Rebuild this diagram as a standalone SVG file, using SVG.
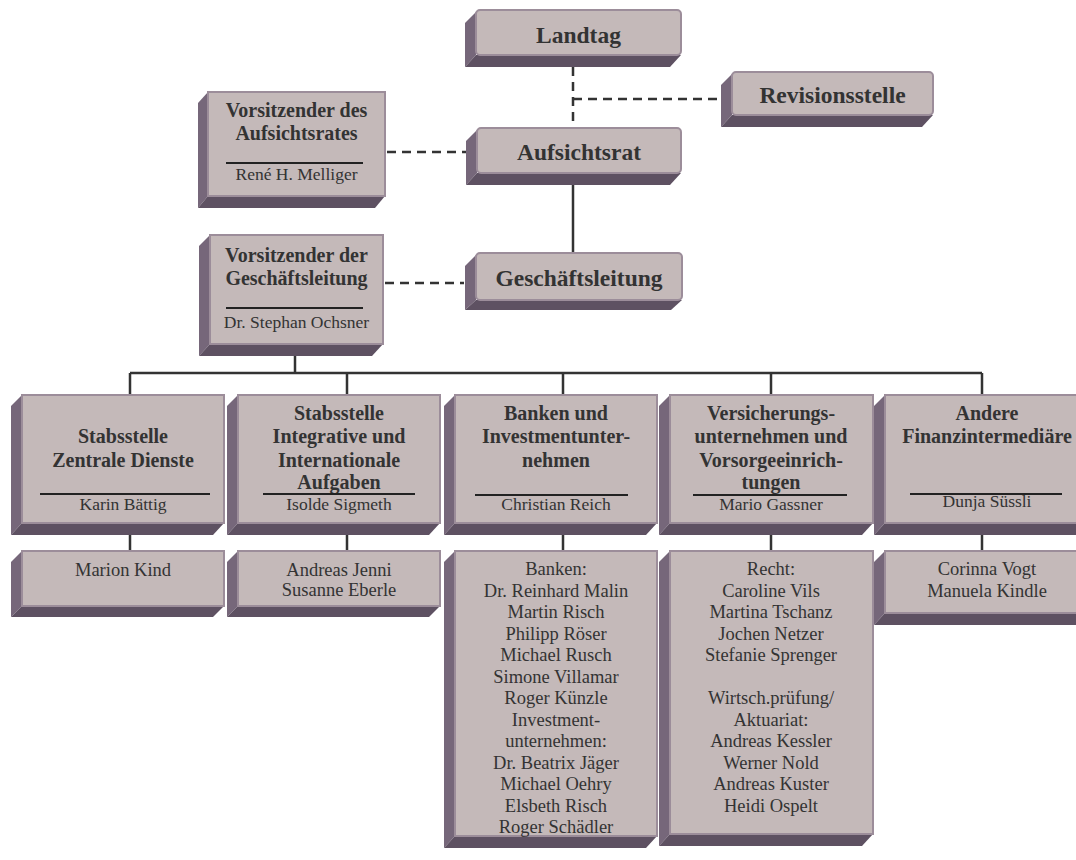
<svg xmlns="http://www.w3.org/2000/svg" width="1076" height="860" viewBox="0 0 1076 860">
<style>
.face{fill:#c4b9b9;stroke:#9c8d9a;stroke-width:2}
.side{fill:#76677a}
.bot{fill:#5e5162}
text{font-family:"Liberation Serif","Times New Roman",serif;fill:#333;text-anchor:middle}
.t1{font-size:23.5px;font-weight:bold}
.t2{font-size:20px;font-weight:bold}
.nm{font-size:17.5px}
.ls{font-size:18.5px}
.sep{stroke:#222;stroke-width:2}
.con{stroke:#333;stroke-width:2.5;fill:none}
.dash{stroke:#333;stroke-width:2.5;fill:none;stroke-dasharray:9,6}
</style>
<rect width="1076" height="860" fill="#fff"/>
<g id="connectors">
<path class="dash" d="M573,67 V128"/>
<path class="dash" d="M573,99 H720"/>
<path class="dash" d="M387,152 H466"/>
<path class="dash" d="M385,283 H464"/>
<path class="con" d="M573,185 V253"/>
<path class="con" d="M295,356 V373"/>
<path class="con" d="M130,373 H982"/>
<path class="con" d="M130,373 V395 M347,373 V395 M563,373 V395 M771,373 V395 M982,373 V395"/>
<path class="con" d="M130,535 V551 M347,535 V551 M563,535 V551 M771,535 V551 M982,535 V551"/>
</g>
<g id="landtag">
<polygon class="side" points="476,12 465,23 465,67 476,55"/>
<polygon class="bot" points="476,55 465,67 670,67 681,55"/>
<rect class="face" x="476" y="10" width="205" height="45" rx="4"/>
<text class="t1" x="578.5" y="43">Landtag</text>
</g>
<g id="revisionsstelle">
<polygon class="side" points="732,74 721,85 721,127 732,115"/>
<polygon class="bot" points="732,115 721,127 922,127 933,115"/>
<rect class="face" x="732" y="72" width="201" height="43" rx="4"/>
<text class="t1" x="832.5" y="103">Revisionsstelle</text>
</g>
<g id="aufsichtsrat">
<polygon class="side" points="477,130 466,141 466,185 477,173"/>
<polygon class="bot" points="477,173 466,185 670,185 681,173"/>
<rect class="face" x="477" y="128" width="204" height="45" rx="4"/>
<text class="t1" x="579" y="160">Aufsichtsrat</text>
</g>
<g id="geschaeftsleitung">
<polygon class="side" points="476,255 465,266 465,310 476,300"/>
<polygon class="bot" points="476,300 465,310 671,310 682,300"/>
<rect class="face" x="476" y="253" width="206" height="47" rx="4"/>
<text class="t1" x="579" y="286">Geschäftsleitung</text>
</g>
<g id="vors-ar">
<polygon class="side" points="208,92 198,103 198,208 208,196"/>
<polygon class="bot" points="208,196 198,208 375,208 385,196"/>
<rect class="face" x="208" y="92" width="177" height="104"/>
<text class="t2" x="296.5" y="117">Vorsitzender des</text>
<text class="t2" x="296.5" y="140">Aufsichtsrates</text>
<line class="sep" x1="226" y1="163" x2="363" y2="163"/>
<text class="nm" x="296.5" y="180">René H. Melliger</text>
</g>
<g id="vors-gl">
<polygon class="side" points="210,235 199,246 199,356 210,344"/>
<polygon class="bot" points="210,344 199,356 372,356 383,344"/>
<rect class="face" x="210" y="235" width="173" height="109"/>
<text class="t2" x="296.5" y="262">Vorsitzender der</text>
<text class="t2" x="296.5" y="285">Geschäftsleitung</text>
<line class="sep" x1="226" y1="308" x2="363" y2="308"/>
<text class="nm" x="296.5" y="328">Dr. Stephan Ochsner</text>
</g>
<g id="stab-zd">
<polygon class="side" points="22,395 11,406 11,535 22,523"/>
<polygon class="bot" points="22,523 11,535 213,535 224,523"/>
<rect class="face" x="22" y="395" width="202" height="128"/>
<text class="t2" x="123" y="443">Stabsstelle</text>
<text class="t2" x="123" y="467">Zentrale Dienste</text>
<line class="sep" x1="40" y1="494" x2="210" y2="494"/>
<text class="nm" x="123" y="510">Karin Bättig</text>
</g>
<g id="stab-ii">
<polygon class="side" points="238,395 227,406 227,535 238,523"/>
<polygon class="bot" points="238,523 227,535 429,535 440,523"/>
<rect class="face" x="238" y="395" width="202" height="128"/>
<text class="t2" x="339" y="420">Stabsstelle</text>
<text class="t2" x="339" y="443">Integrative und</text>
<text class="t2" x="339" y="467">Internationale</text>
<text class="t2" x="339" y="489">Aufgaben</text>
<line class="sep" x1="263" y1="494" x2="415" y2="494"/>
<text class="nm" x="339" y="510">Isolde Sigmeth</text>
</g>
<g id="banken">
<polygon class="side" points="455,395 444,406 444,535 455,523"/>
<polygon class="bot" points="455,523 444,535 646,535 657,523"/>
<rect class="face" x="455" y="395" width="202" height="128"/>
<text class="t2" x="556" y="420">Banken und</text>
<text class="t2" x="556" y="443">Investmentunter-</text>
<text class="t2" x="556" y="467">nehmen</text>
<line class="sep" x1="475" y1="495" x2="628" y2="495"/>
<text class="nm" x="556" y="510">Christian Reich</text>
</g>
<g id="versicherung">
<polygon class="side" points="670,395 659,406 659,535 670,523"/>
<polygon class="bot" points="670,523 659,535 862,535 873,523"/>
<rect class="face" x="670" y="395" width="203" height="128"/>
<text class="t2" x="771" y="420">Versicherungs-</text>
<text class="t2" x="771" y="443">unternehmen und</text>
<text class="t2" x="771" y="467">Vorsorgeeinrich-</text>
<text class="t2" x="771" y="489">tungen</text>
<line class="sep" x1="693" y1="495" x2="847" y2="495"/>
<text class="nm" x="771" y="510">Mario Gassner</text>
</g>
<g id="andere">
<polygon class="side" points="885,395 874,406 874,535 885,523"/>
<polygon class="bot" points="885,523 874,535 1078,535 1089,523"/>
<rect class="face" x="885" y="395" width="204" height="128"/>
<text class="t2" x="987" y="420">Andere</text>
<text class="t2" x="987" y="443">Finanzintermediäre</text>
<line class="sep" x1="910" y1="494" x2="1062" y2="494"/>
<text class="nm" x="987" y="507">Dunja Süssli</text>
</g>
<g id="team-zd">
<polygon class="side" points="22,551 11,562 11,617 22,606"/>
<polygon class="bot" points="22,606 11,617 213,617 224,606"/>
<rect class="face" x="22" y="551" width="202" height="55"/>
<text class="ls" x="123" y="576">Marion Kind</text>
</g>
<g id="team-ii">
<polygon class="side" points="238,551 227,562 227,617 238,606"/>
<polygon class="bot" points="238,606 227,617 429,617 440,606"/>
<rect class="face" x="238" y="551" width="202" height="55"/>
<text class="ls" x="339" y="576">Andreas Jenni</text>
<text class="ls" x="339" y="596">Susanne Eberle</text>
</g>
<g id="team-banken">
<polygon class="side" points="455,551 444,562 444,848 455,836"/>
<polygon class="bot" points="455,836 444,848 646,848 657,836"/>
<rect class="face" x="455" y="551" width="202" height="285"/>
<text class="ls" x="556" y="575">Banken:</text>
<text class="ls" x="556" y="596.5">Dr. Reinhard Malin</text>
<text class="ls" x="556" y="618">Martin Risch</text>
<text class="ls" x="556" y="639.5">Philipp Röser</text>
<text class="ls" x="556" y="661">Michael Rusch</text>
<text class="ls" x="556" y="682.5">Simone Villamar</text>
<text class="ls" x="556" y="704">Roger Künzle</text>
<text class="ls" x="556" y="725.5">Investment-</text>
<text class="ls" x="556" y="747">unternehmen:</text>
<text class="ls" x="556" y="768.5">Dr. Beatrix Jäger</text>
<text class="ls" x="556" y="790">Michael Oehry</text>
<text class="ls" x="556" y="811.5">Elsbeth Risch</text>
<text class="ls" x="556" y="833">Roger Schädler</text>
</g>
<g id="team-versicherung">
<polygon class="side" points="670,551 659,562 659,846 670,834"/>
<polygon class="bot" points="670,834 659,846 862,846 873,834"/>
<rect class="face" x="670" y="551" width="203" height="283"/>
<text class="ls" x="771" y="575">Recht:</text>
<text class="ls" x="771" y="596.5">Caroline Vils</text>
<text class="ls" x="771" y="618">Martina Tschanz</text>
<text class="ls" x="771" y="639.5">Jochen Netzer</text>
<text class="ls" x="771" y="661">Stefanie Sprenger</text>
<text class="ls" x="771" y="704">Wirtsch.prüfung/</text>
<text class="ls" x="771" y="725.5">Aktuariat:</text>
<text class="ls" x="771" y="747">Andreas Kessler</text>
<text class="ls" x="771" y="768.5">Werner Nold</text>
<text class="ls" x="771" y="790">Andreas Kuster</text>
<text class="ls" x="771" y="811.5">Heidi Ospelt</text>
</g>
<g id="team-andere">
<polygon class="side" points="885,551 874,562 874,625 885,613"/>
<polygon class="bot" points="885,613 874,625 1078,625 1089,613"/>
<rect class="face" x="885" y="551" width="204" height="62"/>
<text class="ls" x="987" y="575">Corinna Vogt</text>
<text class="ls" x="987" y="597">Manuela Kindle</text>
</g>
</svg>
